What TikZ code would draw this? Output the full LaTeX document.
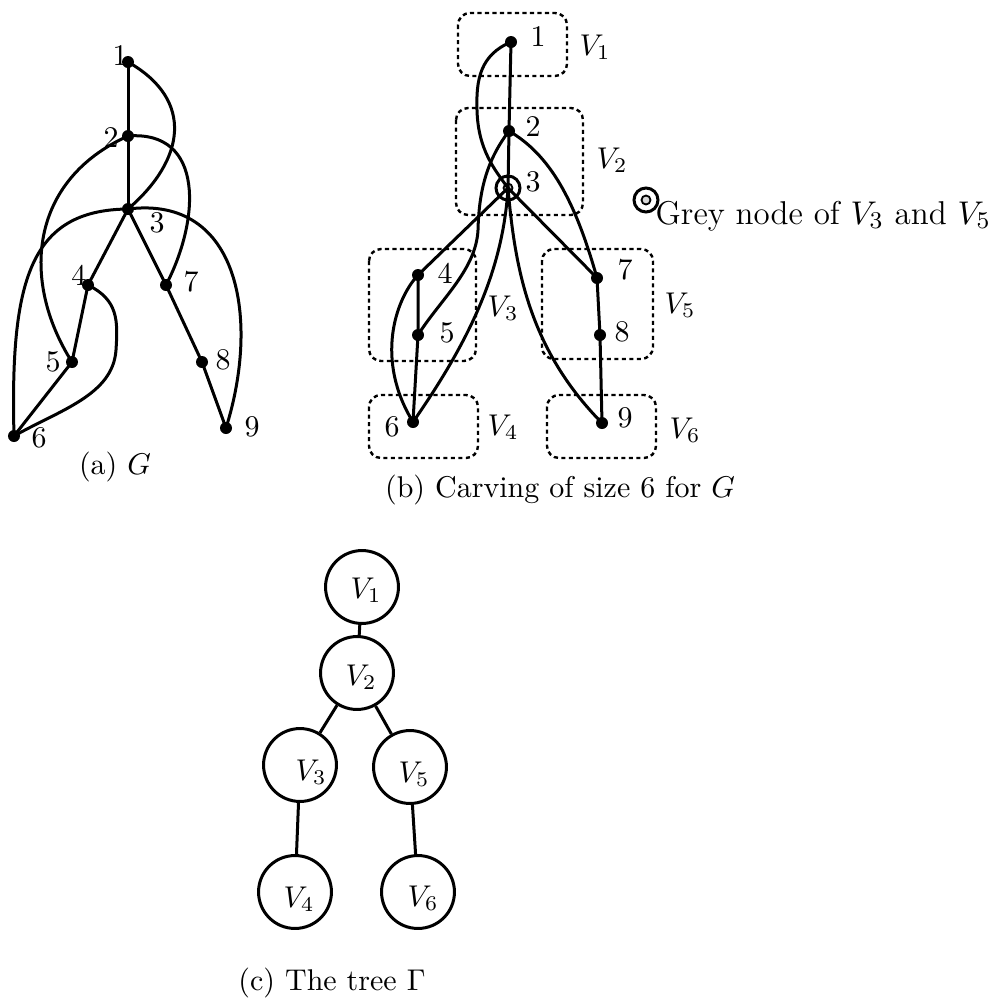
\documentclass[tikz,border=0pt]{standalone}
\begin{document}
\begin{tikzpicture}[x=0.33333pt,y=-0.33333pt,
  dot/.style={circle,fill=black,inner sep=0pt,minimum size=4pt},
  edge/.style={line width=1pt},
  lbl/.style={inner sep=0pt},
  dbox/.style={dash pattern=on 1.4pt off 1.1pt, line width=0.8pt, rounded corners=4pt},
  tnode/.style={circle,draw,line width=1pt,minimum size=24.3pt,inner sep=0pt},
  capt/.style={inner sep=0pt}]
\useasboundingbox (0,0) rectangle (995,998);
% ---------- (a) ----------
\node[dot] (a1) at (128,62) {};
\node[dot] (a2) at (128,136) {};
\node[dot] (a3) at (128,209) {};
\node[dot] (a4) at (88,285) {};
\node[dot] (a5) at (72,362) {};
\node[dot] (a6) at (14,436) {};
\node[dot] (a7) at (166,285) {};
\node[dot] (a8) at (202,362) {};
\node[dot] (a9) at (226,428) {};
\node[lbl] (la1) at (120,56) {1};
\node[lbl] (la2) at (111,138) {2};
\node[lbl] (la3) at (157,223) {3};
\node[lbl] (la4) at (79,275) {4};
\node[lbl] (la5) at (53,362) {5};
\node[lbl] (la6) at (39,438) {6};
\node[lbl] (la7) at (191,282) {7};
\node[lbl] (la8) at (223,360) {8};
\node[lbl] (la9) at (252,427) {9};
\draw[edge] (a1.center) -- (a2.center) -- (a3.center);
\draw[edge] (a3.center) -- (a4.center) -- (a5.center) -- (a6.center);
\draw[edge] (a3.center) -- (a7.center) -- (a8.center) -- (a9.center);
\draw[edge] (a1.center) .. controls (195,100) and (185,160) .. (a3.center);
\draw[edge] (a2.center) .. controls (30,180) and (20,280) .. (a5.center);
\draw[edge] (a2.center) .. controls (205,130) and (200,220) .. (a7.center);
\draw[edge] (a3.center) .. controls (30,210) and (10,280) .. (a6.center);
\draw[edge] (a3.center) .. controls (240,195) and (260,320) .. (a9.center);
\draw[edge] (a4.center) .. controls (118,300) and (118,320) .. (116,350) .. controls (113,395) and (60,410) .. (a6.center);
\node[capt] (capa) at (115,467) {(a) $G$};
% ---------- (b) ----------
\draw[dbox] (458,13) rectangle (567,76);
\draw[dbox] (456,108) rectangle (583,215);
\draw[dbox] (369,249) rectangle (476,361);
\draw[dbox] (369,395) rectangle (478,458);
\draw[dbox] (542,249) rectangle (653,359);
\draw[dbox] (547,395) rectangle (656,458);
\node[lbl] (lv1) at (595,47) {$V_1$};
\node[lbl] (lv2) at (612,160) {$V_2$};
\node[lbl] (lv3) at (503,308) {$V_3$};
\node[lbl] (lv4) at (503,427) {$V_4$};
\node[lbl] (lv5) at (680,305) {$V_5$};
\node[lbl] (lv6) at (685,430) {$V_6$};
\node[dot] (b1) at (511,42) {};
\node[dot] (b2) at (509,131) {};
\node[circle,draw,line width=1pt,minimum size=8pt,inner sep=0pt] (b3) at (508,188) {};
\node[circle,draw,fill=gray!40,line width=0.6pt,minimum size=3pt,inner sep=0pt] (b3in) at (508,188) {};
\node[dot] (b4) at (418,275) {};
\node[dot] (b5) at (418,335) {};
\node[dot] (b6) at (413,422) {};
\node[dot] (b7) at (597,278) {};
\node[dot] (b8) at (600,335) {};
\node[dot] (b9) at (602,423) {};
\node[lbl] (lb1) at (538,37) {1};
\node[lbl] (lb2) at (533,127) {2};
\node[lbl] (lb3) at (533,182) {3};
\node[lbl] (lb4) at (445,273) {4};
\node[lbl] (lb5) at (447,333) {5};
\node[lbl] (lb6) at (392,427) {6};
\node[lbl] (lb7) at (625,270) {7};
\node[lbl] (lb8) at (622,332) {8};
\node[lbl] (lb9) at (625,418) {9};
\draw[edge] (b1.center) -- (b2.center) -- (b3.center);
\draw[edge] (b3.center) -- (b4.center) -- (b5.center) -- (b6.center);
\draw[edge] (b3.center) -- (b7.center) -- (b8.center) -- (b9.center);
\draw[edge] (b1.center) .. controls (480,55) and (476,80) .. (477,110) .. controls (478,150) and (495,170) .. (b3.center);
\draw[edge] (b2.center) .. controls (487,160) and (479,190) .. (478,230) .. controls (476,270) and (440,300) .. (b5.center);
\draw[edge] (b2.center) .. controls (550,155) and (575,200) .. (b7.center);
\draw[edge] (b3.center) .. controls (503,270) and (470,340) .. (b6.center);
\draw[edge] (b3.center) .. controls (515,270) and (530,350) .. (b9.center);
\draw[edge] (b4.center) .. controls (395,300) and (375,360) .. (b6.center);
\node[circle,draw,line width=1pt,minimum size=8pt,inner sep=0pt] (leg) at (646,200) {};
\node[circle,draw,fill=gray!30,line width=0.6pt,minimum size=3pt,inner sep=0pt] (legin) at (646,200) {};
\node[lbl,anchor=base west,font=\fontsize{11}{13}\selectfont] (legt) at (655,224) {Grey node of $V_3$ and $V_5$};
\node[capt] (capb) at (560,490) {(b) Carving of size 6 for $G$};
% ---------- (c) ----------
\node[tnode] (t1) at (362,587) {};
\node[tnode] (t2) at (357,673) {};
\node[tnode] (t3) at (300,765) {};
\node[tnode] (t5) at (410,767) {};
\node[tnode] (t4) at (295,892) {};
\node[tnode] (t6) at (418,892) {};
\node[lbl] (lt1) at (366,590) {$V_1$};
\node[lbl] (lt2) at (361,677) {$V_2$};
\node[lbl] (lt3) at (311,772) {$V_3$};
\node[lbl] (lt5) at (414,774) {$V_5$};
\node[lbl] (lt4) at (299,899) {$V_4$};
\node[lbl] (lt6) at (423,898) {$V_6$};
\draw[edge] (t1) -- (t2);
\draw[edge] (t2) -- (t3);
\draw[edge] (t2) -- (t5);
\draw[edge] (t3) -- (t4);
\draw[edge] (t5) -- (t6);
\node[capt] (capc) at (332,983) {(c) The tree $\Gamma$};
\end{tikzpicture}
\end{document}
